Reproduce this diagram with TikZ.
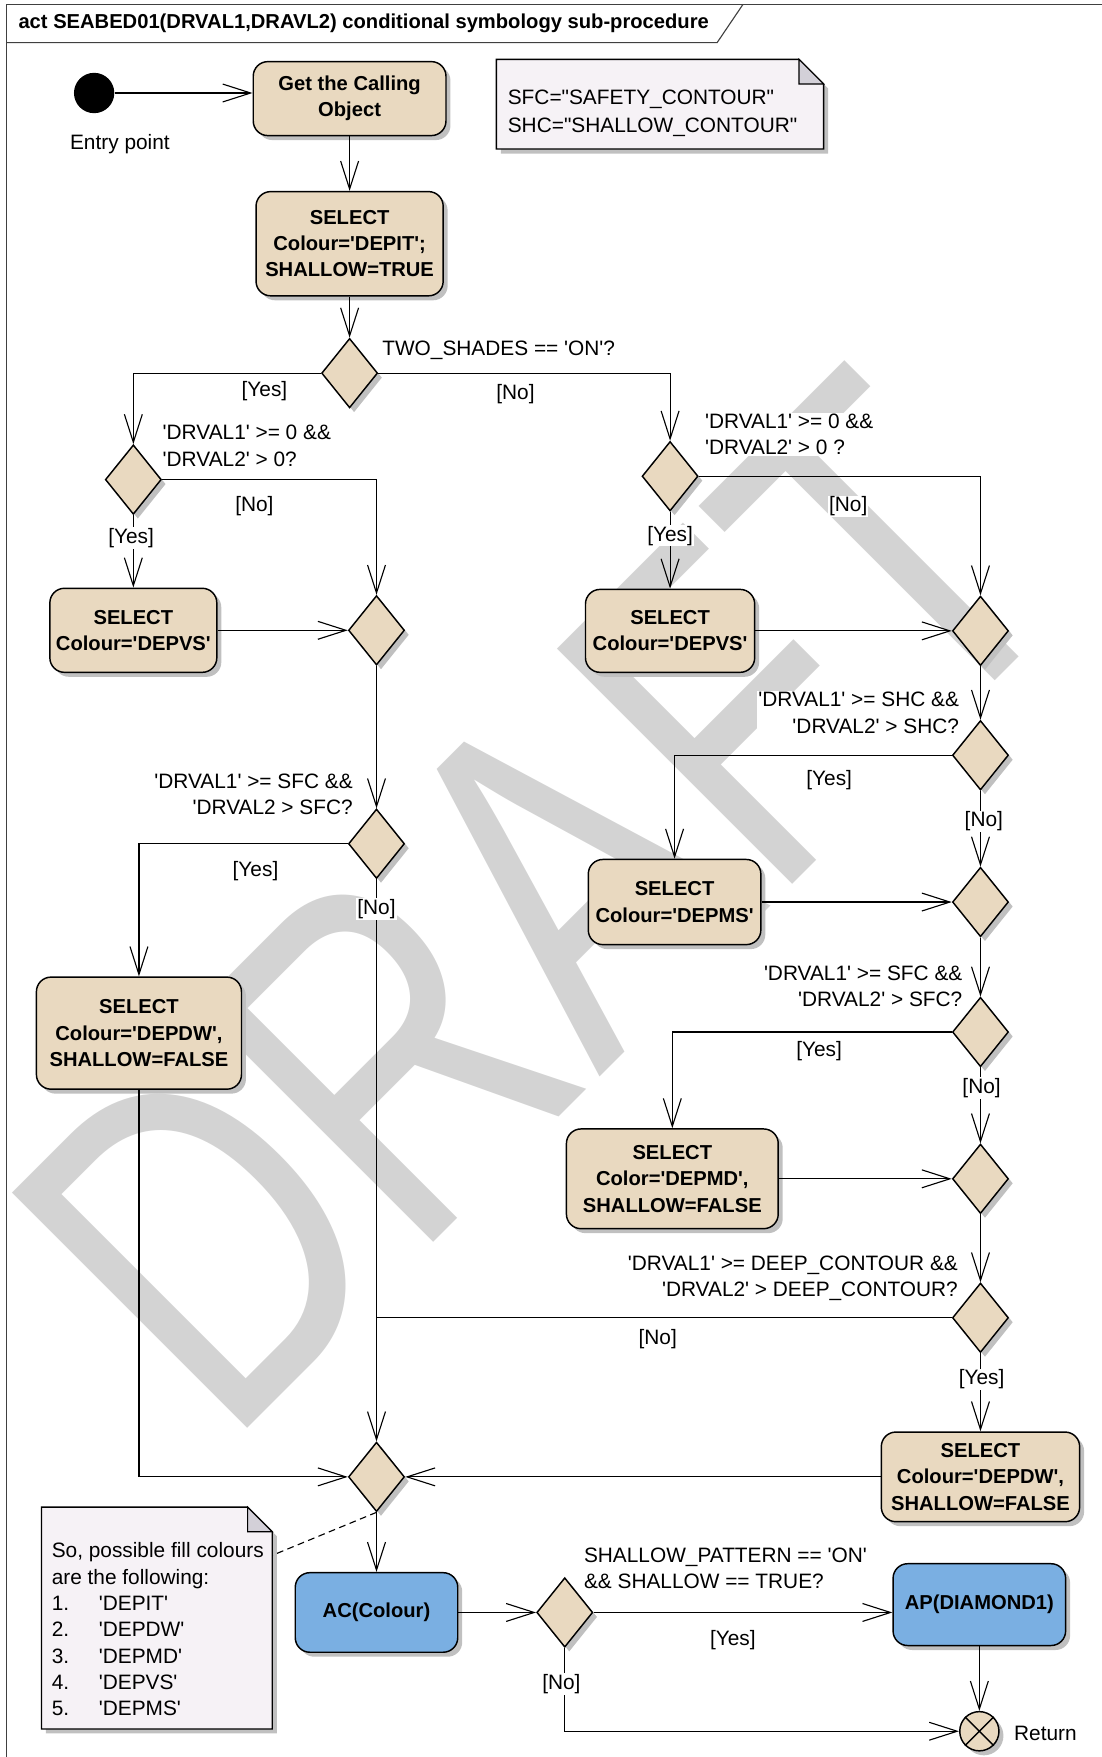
\documentclass[tikz,border=0pt]{standalone}
\usepackage{fontspec}
\setmainfont{Liberation Sans}[Ligatures=TeXOff]
\usetikzlibrary{shapes.geometric,shadows,arrows.meta}

\definecolor{actfill}{RGB}{233,217,192}
\definecolor{callfill}{RGB}{122,175,226}
\definecolor{notefill}{RGB}{246,242,246}
\definecolor{foldfill}{RGB}{211,208,216}
\definecolor{wmgray}{RGB}{211,211,211}
\definecolor{shadowgray}{RGB}{192,192,192}

\tikzset{
  dropgray/.style={drop shadow={shadow xshift=4pt, shadow yshift=-4pt, fill=shadowgray, opacity=1}},
  txt/.style={font=\fontsize{18.6}{23.5}\selectfont},
  action/.style={rectangle, rounded corners=13pt, draw, line width=1.3pt, fill=actfill,
    align=center, inner sep=1pt, font=\bfseries\fontsize{18}{23.5}\selectfont, dropgray},
  call/.style={action, fill=callfill},
  decision/.style={diamond, draw, line width=1.3pt, fill=actfill, minimum width=50pt,
    minimum height=62pt, inner sep=0pt, dropgray},
  initial/.style={circle, fill=black, minimum size=36pt, inner sep=0pt},
  final/.style={circle, draw, line width=1.3pt, fill=actfill, minimum size=35pt, inner sep=0pt, dropgray},
  flow/.style={line width=1pt, -{Straight Barb[length=25pt, width=16pt]}},
  plain/.style={line width=1pt},
  guard/.style={txt, fill=white, inner sep=1pt},
  cond/.style={txt, fill=white, inner sep=1pt, align=left},
  notebox/.style={fill=notefill, draw, line width=1.2pt, dropgray},
  fold/.style={fill=foldfill, draw, line width=1pt},
  notetxt/.style={txt, align=left, inner sep=0pt},
  frame/.style={draw=black!75, line width=1pt},
  watermark/.style={font=\fontsize{431.6}{431.6}\selectfont, text=wmgray, rotate=45, xscale=0.754,
    anchor=base west, inner sep=0pt}
}

\begin{document}
\begin{tikzpicture}[x=1pt, y=-1pt]
    \useasboundingbox (0,0) rectangle (983,1568);

    % Watermark
    \node[watermark] (draft) at (202.3,1293.7) {DRAFT};

    % Frame and title
    \draw[frame] (983,4) -- (6,4) -- (6,1568);
    \draw[frame] (6,38) -- (640,38) -- (663,4);
    \node[txt, font=\bfseries\fontsize{18}{23.5}\selectfont, anchor=west] (title) at (13,21)
        {act SEABED01(DRVAL1,DRAVL2) conditional symbology sub-procedure};

    % Notes
    \filldraw[notebox] (443,53) -- (713,53) -- (735,75) -- (735,133) -- (443,133) -- cycle;
    \filldraw[fold] (713,53) -- (713,75) -- (735,75) -- cycle;
    \node[notetxt, font=\fontsize{18.6}{25}\selectfont, anchor=west] (limits) at (453,101)
        {SFC="SAFETY\_CONTOUR"\\SHC="SHALLOW\_CONTOUR"};

    \filldraw[notebox] (37,1345) -- (221,1345) -- (243,1367) -- (243,1543) -- (37,1543) -- cycle;
    \filldraw[fold] (221,1345) -- (221,1367) -- (243,1367) -- cycle;
    \node[notetxt, anchor=west] (colourList) at (46,1454)
        {So, possible fill colours\\are the following:\\
         \makebox[42pt][l]{1.}'DEPIT'\\\makebox[42pt][l]{2.}'DEPDW'\\
         \makebox[42pt][l]{3.}'DEPMD'\\\makebox[42pt][l]{4.}'DEPVS'\\
         \makebox[42pt][l]{5.}'DEPMS'};
    \coordinate (noteTip) at (243,1388);

    % Activities and decisions
    \node[initial] (start) at (84,83) {};
    \node[txt] (entry) at (107,129) {Entry point};
    \node[action, minimum width=172pt, minimum height=66pt] (getObj) at (312,88) {Get the Calling\\Object};
    \node[action, minimum width=167pt, minimum height=93pt] (selDepit) at (312,217.5) {SELECT\\Colour='DEPIT';\\SHALLOW=TRUE};
    \node[decision] (dTwo) at (312,333) {};

    \node[decision] (dPos1) at (119,428) {};
    \node[action, minimum width=149pt, minimum height=75pt] (selVs1) at (119,562.5) {SELECT\\Colour='DEPVS'};
    \node[decision] (mVs1) at (336,562.5) {};
    \node[decision] (dSfc1) at (336,753) {};
    \node[action, minimum width=183pt, minimum height=100pt] (selDw1) at (124,922) {SELECT\\Colour='DEPDW',\\SHALLOW=FALSE};

    \node[decision] (dPos2) at (598,425) {};
    \node[action, minimum width=151pt, minimum height=74pt] (selVs2) at (598,563) {SELECT\\Colour='DEPVS'};
    \node[decision] (mVs2) at (875,563) {};
    \node[decision] (dShc) at (875,674) {};
    \node[action, minimum width=154pt, minimum height=76pt] (selMs) at (602,805) {SELECT\\Colour='DEPMS'};
    \node[decision] (mMs) at (875,805) {};
    \node[decision] (dSfc2) at (875,921) {};
    \node[action, minimum width=189pt, minimum height=89pt] (selMd) at (600,1052) {SELECT\\Color='DEPMD',\\SHALLOW=FALSE};
    \node[decision] (mMd) at (875,1052) {};
    \node[decision] (dDeep) at (875,1176) {};
    \node[action, minimum width=177pt, minimum height=80pt] (selDw2) at (875,1318) {SELECT\\Colour='DEPDW',\\SHALLOW=FALSE};

    \node[decision] (mAll) at (336,1318) {};
    \node[call, minimum width=145pt, minimum height=71pt] (acColour) at (336,1439) {AC(Colour)};
    \node[decision] (dPat) at (504,1439) {};
    \node[call, minimum width=154pt, minimum height=73pt] (apDiamond) at (874,1432) {AP(DIAMOND1)};
    \node[final] (finish) at (874,1545) {};
    \draw[line width=1.3pt] (finish.north east) -- (finish.south west) (finish.north west) -- (finish.south east);
    \node[txt] (ret) at (933,1547) {Return};

    % Control flows
    \draw[flow] (start.east) -- (start.east -| getObj.west);
    \draw[flow] (getObj) -- (selDepit);
    \draw[flow] (selDepit) -- (dTwo);
    \draw[flow] (dTwo.west) -| (dPos1.north);
    \draw[flow] (dTwo.east) -| (dPos2.north);
    \draw[flow] (dPos1.east) -| (mVs1.north);
    \draw[flow] (dPos1) -- (selVs1);
    \draw[flow] (selVs1) -- (mVs1);
    \draw[flow] (mVs1) -- (dSfc1);
    \draw[flow] (dSfc1.west) -| (selDw1.north);
    \draw[flow] (dSfc1) -- (mAll);
    \draw[flow] (selDw1.south) |- (mAll.west);
    \draw[flow] (dPos2.east) -| (mVs2.north);
    \draw[flow] (dPos2) -- (selVs2);
    \draw[flow] (selVs2) -- (mVs2);
    \draw[flow] (mVs2) -- (dShc);
    \draw[flow] (dShc.west) -| (selMs.north);
    \draw[flow] (dShc) -- (mMs);
    \draw[flow] (selMs) -- (mMs);
    \draw[flow] (mMs) -- (dSfc2);
    \draw[flow] (dSfc2.west) -| (selMd.north);
    \draw[flow] (dSfc2) -- (mMd);
    \draw[flow] (selMd) -- (mMd);
    \draw[flow] (mMd) -- (dDeep);
    \draw[plain] (dDeep.west) -- (dDeep.west -| dSfc1);
    \draw[flow] (dDeep) -- (selDw2);
    \draw[flow] (selDw2) -- (mAll);
    \draw[flow] (mAll) -- (acColour);
    \draw[flow] (acColour) -- (dPat);
    \draw[flow] (dPat.east) -- (dPat.east -| apDiamond.west);
    \draw[flow] (dPat.south) |- (finish.west);
    \draw[flow] (apDiamond) -- (finish);
    \draw[plain, dash pattern=on 6pt off 4pt] (mAll.south) -- (noteTip);

    % Guards and conditions
    \node[cond, anchor=west] (qTwo) at (340,313) {TWO\_SHADES == 'ON'?};
    \node[guard] (yTwo) at (236,349) {[Yes]};
    \node[guard] (nTwo) at (460,352) {[No]};
    \node[cond, anchor=west] (qPos1) at (144,398) {'DRVAL1' >= 0 \&\&\\'DRVAL2' > 0?};
    \node[guard] (nPos1) at (227,452) {[No]};
    \node[guard] (yPos1) at (117,480) {[Yes]};
    \node[cond, anchor=west] (qPos2) at (628,387.5) {'DRVAL1' >= 0 \&\&\\'DRVAL2' > 0 ?};
    \node[guard] (nPos2) at (757,452) {[No]};
    \node[guard] (yPos2) at (598,478) {[Yes]};
    \node[cond, anchor=east, align=right] (qSfc1) at (316,709) {'DRVAL1' >= SFC \&\&\\'DRVAL2 > SFC?};
    \node[guard] (ySfc1) at (228,777) {[Yes]};
    \node[guard] (nSfc1) at (336,811) {[No]};
    \node[cond, anchor=east, align=right] (qShc) at (857,636) {'DRVAL1' >= SHC \&\&\\'DRVAL2' > SHC?};
    \node[guard] (yShc) at (740,696) {[Yes]};
    \node[guard] (nShc) at (878,733) {[No]};
    \node[cond, anchor=east, align=right] (qSfc2) at (860,880.5) {'DRVAL1' >= SFC \&\&\\'DRVAL2' > SFC?};
    \node[guard] (ySfc2) at (731,938) {[Yes]};
    \node[guard] (nSfc2) at (876,971) {[No]};
    \node[cond, anchor=east, align=right] (qDeep) at (856,1141) {'DRVAL1' >= DEEP\_CONTOUR \&\&\\'DRVAL2' > DEEP\_CONTOUR?};
    \node[guard] (nDeep) at (587,1195) {[No]};
    \node[guard] (yDeep) at (876,1231) {[Yes]};
    \node[cond, anchor=west] (qPat) at (520,1399.5) {SHALLOW\_PATTERN == 'ON'\\\&\& SHALLOW == TRUE?};
    \node[guard] (yPat) at (654,1464) {[Yes]};
    \node[guard] (nPat) at (501,1503) {[No]};
\end{tikzpicture}
\end{document}
